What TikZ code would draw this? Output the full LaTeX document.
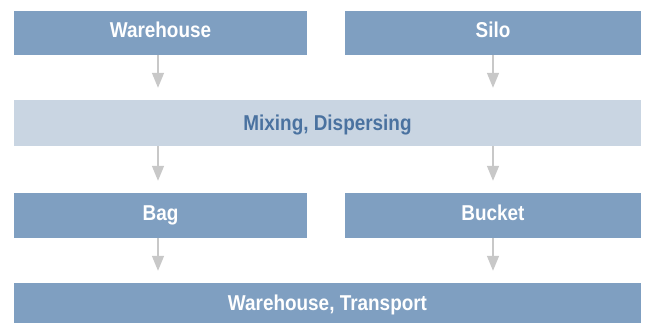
\documentclass[tikz,border=0pt]{standalone}
\usepackage{fontspec}
\setmainfont[FakeStretch=0.88]{Liberation Sans}
\usetikzlibrary{arrows.meta}
\definecolor{darkbox}{HTML}{7F9FC1}
\definecolor{lightbox}{HTML}{C9D5E2}
\definecolor{lighttext}{HTML}{4A72A0}
\definecolor{arrowgray}{HTML}{C8C8C8}
\tikzset{
  boxbase/.style={rectangle, inner sep=0pt, font=\fontsize{21.5}{25}\selectfont\bfseries, text height=15.4pt},
  darkstep/.style={boxbase, fill=darkbox, text=white, text depth=6pt},
  lightstep/.style={boxbase, fill=lightbox, text=lighttext, text depth=0pt},
  flow/.style={draw=arrowgray, line width=1.5pt, -{Triangle[width=12pt,length=15pt]}, shorten >=12pt}
}
\begin{document}
\begin{tikzpicture}[x=1pt,y=1pt]
\useasboundingbox (0,0) rectangle (646,323);
\node[darkstep, minimum width=293pt, minimum height=44pt] (wh) at (160.5,290) {Warehouse};
\node[darkstep, minimum width=296pt, minimum height=44pt] (silo) at (493,290) {Silo};
\node[lightstep, minimum width=627pt, minimum height=46pt] (mix) at (327.5,200) {Mixing, Dispersing};
\node[darkstep, minimum width=293pt, minimum height=45pt] (bag) at (160.5,107.5) {Bag};
\node[darkstep, minimum width=296pt, minimum height=45pt] (bucket) at (493,107.5) {Bucket};
\node[darkstep, minimum width=627pt, minimum height=45pt] (wt) at (327.5,17.5) {Warehouse, Transport};
\draw[flow] (wh.south -| 158,0) -- (mix.north -| 158,0);
\draw[flow] (silo.south -| 493,0) -- (mix.north -| 493,0);
\draw[flow] (mix.south -| 158,0) -- (bag.north -| 158,0);
\draw[flow] (mix.south -| 493,0) -- (bucket.north -| 493,0);
\draw[flow] (bag.south -| 158,0) -- (wt.north -| 158,0);
\draw[flow] (bucket.south -| 493,0) -- (wt.north -| 493,0);
\end{tikzpicture}
\end{document}
